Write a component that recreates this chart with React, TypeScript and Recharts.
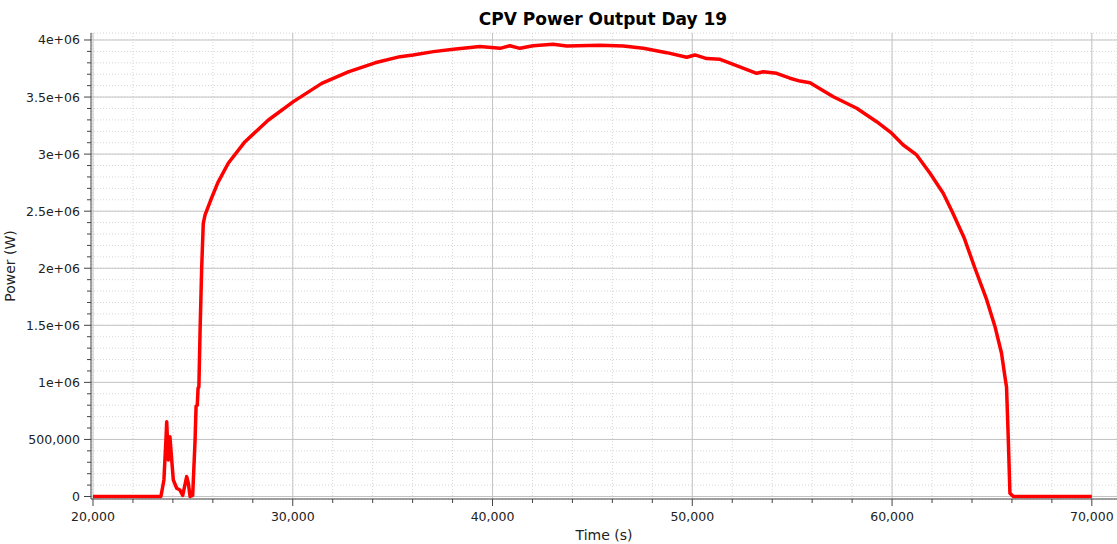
import { LineChart, Line, XAxis, YAxis, CartesianGrid } from "recharts";

const time = [
  20000, 23400, 23550, 23650, 23690, 23770, 23850, 23940, 24020, 24190, 24350,
  24490, 24690, 24770, 24860, 24990, 25110, 25160, 25220, 25260, 25300, 25360,
  25440, 25520, 25610, 25900, 26250, 26770, 27610, 28780, 30030, 31450, 32780,
  34120, 35370, 36020, 37040, 38040, 39370, 40370, 40870, 41370, 42030, 43030,
  43710, 45380, 46550, 47550, 48720, 49720, 50130, 50720, 51390, 52050, 53220,
  53550, 54220, 54890, 55390, 55890, 57060, 58230, 59230, 59980, 60560, 61230,
  61900, 62560, 63000, 63600, 64150, 64740, 65150, 65480, 65650, 65730, 65820,
  65900, 66070, 70000,
];

const power = [
  0, 0, 145000, 495000, 655000, 320000, 524000, 320000, 145000, 72000, 57000,
  10000, 174000, 118000, 0, 10000, 495000, 790000, 800000, 950000, 960000,
  1450000, 2000000, 2394000, 2467000, 2600000, 2750000, 2920000, 3109000,
  3299000, 3460000, 3620000, 3720000, 3800000, 3854000, 3869000, 3898000,
  3919000, 3942000, 3927000, 3950000, 3927000, 3950000, 3963000, 3948000,
  3953000, 3948000, 3927000, 3889000, 3849000, 3869000, 3837000, 3831000,
  3787000, 3708000, 3722000, 3708000, 3665000, 3640000, 3626000, 3503000,
  3402000, 3284000, 3183000, 3080000, 2993000, 2832000, 2657000, 2500000,
  2270000, 2000000, 1722000, 1490000, 1255000, 1050000, 960000, 495000, 28000,
  0, 0,
];

const xMajor = [20000, 30000, 40000, 50000, 60000, 70000];
const yMajor = [0, 500000, 1000000, 1500000, 2000000, 2500000, 3000000, 3500000, 4000000];
const yLabels = ["0", "500,000", "1e+06", "1.5e+06", "2e+06", "2.5e+06", "3e+06", "3.5e+06", "4e+06"];

const xMinor = Array.from({ length: 26 }, (_, i) => 20000 + i * 2000);
const yMinor = Array.from({ length: 41 }, (_, i) => i * 100000);

const data = time.map((t, i) => ({ t, p: power[i] }));

const FONT = "DejaVu Sans";

const XTick = (props: any) => {
  const { x, y, payload } = props;
  const major = xMajor.includes(payload.value);
  return (
    <g>
      <line x1={x} x2={x} y1={y} y2={y + (major ? 7 : 4)} stroke="#444" />
      {major && (
        <text x={x} y={y + 22} textAnchor="middle" fontSize={12.5} fontFamily={FONT} fill="#222">
          {payload.value.toLocaleString("en-US")}
        </text>
      )}
    </g>
  );
};

const YTick = (props: any) => {
  const { x, y, payload } = props;
  const idx = yMajor.indexOf(payload.value);
  const major = idx >= 0;
  return (
    <g>
      <line x1={x - (major ? 7 : 4)} x2={x} y1={y} y2={y} stroke="#444" />
      {major && (
        <text x={x - 11} y={y + 4.5} textAnchor="end" fontSize={12.5} fontFamily={FONT} fill="#222">
          {yLabels[idx]}
        </text>
      )}
    </g>
  );
};

export default function App() {
  return (
    <div style={{ position: "absolute", left: 0, top: 0, width: 1117, height: 544, background: "#fff" }}>
      <LineChart width={1117} height={544} data={data} margin={{ top: 33, right: 0, bottom: 0, left: 0 }}>
        <text x={603} y={25} textAnchor="middle" fontSize={17} fontWeight="bold" fontFamily={FONT} fill="#000">
          CPV Power Output Day 19
        </text>
        <CartesianGrid stroke="#d6d6d6" strokeDasharray="1 2" />
        <CartesianGrid stroke="#c4c4c4" horizontalValues={yMajor} verticalValues={xMajor} />
        <XAxis
          dataKey="t"
          type="number"
          domain={[19900, 71260]}
          allowDataOverflow
          ticks={xMinor}
          interval={0}
          height={45}
          tickSize={0}
          tickMargin={0}
          tick={<XTick />}
          axisLine={{ stroke: "#444" }}
          label={{ value: "Time (s)", position: "insideBottom", offset: 4, fontSize: 14, fontFamily: FONT, fill: "#222" }}
        />
        <YAxis
          type="number"
          domain={[-21900, 4061300]}
          allowDataOverflow
          ticks={yMinor}
          interval={0}
          width={91}
          tickSize={0}
          tickMargin={0}
          tick={<YTick />}
          axisLine={{ stroke: "#444" }}
          label={{ value: "Power (W)", angle: -90, position: "insideLeft", offset: 10, fontSize: 14, fontFamily: FONT, fill: "#222", style: { textAnchor: "middle" } }}
        />
        <Line
          dataKey="p"
          type="linear"
          stroke="#ff0000"
          strokeWidth={3.5}
          dot={false}
          isAnimationActive={false}
          strokeLinejoin="round"
        />
      </LineChart>
    </div>
  );
}
